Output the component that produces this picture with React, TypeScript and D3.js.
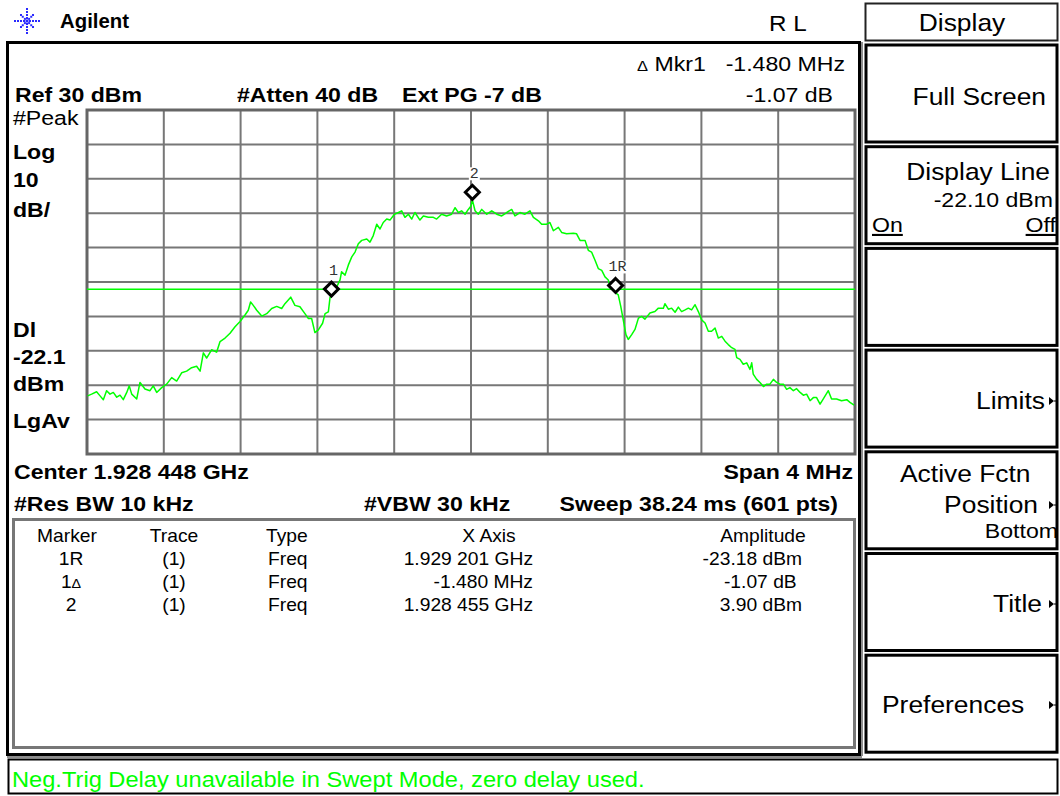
import React from 'react';
import * as d3 from 'd3';

// ---- Data ----
const refLevelDbm = 30;
const dbPerDiv = 10;
const spanMHz = 4;
const divisions = 10;
const displayLineDbm = -22.1;

const traceOffsetMHz = [
  -1.997, -1.976, -1.95, -1.932, -1.915, -1.898, -1.88, -1.863, -1.845, -1.828, -1.811, -1.793, -1.78, -1.767,
  -1.741, -1.724, -1.698, -1.672, -1.655, -1.637, -1.611, -1.585, -1.559, -1.533, -1.507, -1.481, -1.455, -1.429,
  -1.411, -1.394, -1.377, -1.351, -1.325, -1.307, -1.281, -1.255, -1.229, -1.203, -1.177, -1.16, -1.148, -1.134,
  -1.116, -1.09, -1.064, -1.038, -1.012, -0.986, -0.969, -0.939, -0.917, -0.891, -0.865, -0.847, -0.83, -0.813,
  -0.795, -0.773, -0.76, -0.743, -0.734, -0.727, -0.7, -0.682, -0.674, -0.656, -0.639, -0.621, -0.604, -0.587,
  -0.569, -0.543, -0.526, -0.509, -0.491, -0.474, -0.457, -0.439, -0.422, -0.399, -0.378, -0.361, -0.344, -0.326,
  -0.309, -0.292, -0.266, -0.248, -0.222, -0.196, -0.179, -0.153, -0.127, -0.101, -0.083, -0.066, -0.049, -0.031,
  -0.014, 0.0, 0.007, 0.021, 0.038, 0.056, 0.082, 0.108, 0.134, 0.16, 0.186, 0.212, 0.229, 0.255, 0.281, 0.307,
  0.325, 0.351, 0.368, 0.394, 0.411, 0.429, 0.455, 0.472, 0.498, 0.533, 0.55, 0.568, 0.594, 0.611, 0.628, 0.646,
  0.663, 0.681, 0.698, 0.715, 0.724, 0.741, 0.753, 0.767, 0.78, 0.793, 0.807, 0.819, 0.837, 0.854, 0.872, 0.889,
  0.906, 0.932, 0.958, 0.976, 1.002, 1.01, 1.028, 1.045, 1.063, 1.08, 1.097, 1.115, 1.132, 1.149, 1.167, 1.184,
  1.201, 1.219, 1.236, 1.253, 1.271, 1.288, 1.306, 1.323, 1.34, 1.358, 1.375, 1.384, 1.401, 1.418, 1.436, 1.453,
  1.462, 1.47, 1.488, 1.505, 1.523, 1.54, 1.557, 1.575, 1.592, 1.609, 1.627, 1.644, 1.661, 1.679, 1.696, 1.714,
  1.731, 1.748, 1.766, 1.783, 1.8, 1.818, 1.835, 1.861, 1.878, 1.904, 1.93, 1.957, 1.974, 1.995,
];
const traceLevelDbm = [
  -53.1, -52.6, -51.9, -53.1, -54.2, -51.6, -52.6, -52.1, -53.5, -52.9, -54.2, -52.1, -50.2, -52.6,
  -54.0, -49.2, -51.1, -51.6, -50.2, -52.1, -50.7, -49.7, -47.8, -48.8, -46.4, -45.9, -44.9, -44.5,
  -45.9, -40.6, -42.1, -39.7, -40.4, -37.3, -36.3, -34.9, -33.0, -31.5, -29.6, -28.2, -25.8, -26.8,
  -28.2, -29.9, -29.2, -27.7, -27.1, -27.7, -26.3, -24.4, -26.8, -27.2, -29.2, -30.6, -30.6, -34.7,
  -33.9, -32.0, -29.2, -28.7, -24.4, -24.25, -21.5, -19.4, -17.0, -18.0, -15.1, -12.7, -11.3, -8.9,
  -7.9, -7.5, -8.4, -6.5, -3.2, -4.6, -2.7, -1.7, -2.0, -0.3, 0.2, 0.7, -1.2, -0.3,
  -1.7, 0.2, -2.0, -0.8, -1.2, -1.2, -1.7, -0.3, -0.8, -0.3, 1.6, 0.2, 0.7, -0.3,
  1.1, 2.1, 3.9, 0.7, -0.3, 1.1, -0.3, 0.7, -0.3, -0.8, 0.2, 1.1, -0.8, 0.2, -0.3, 0.7,
  -1.2, -2.2, -3.2, -3.2, -2.7, -5.1, -4.1, -5.6, -6.0, -5.8, -6.0, -7.9, -7.9, -10.8, -11.3, -13.7,
  -16.1, -16.6, -18.5, -19.4, -21.3, -20.4, -23.18, -23.75, -27.1, -31.0, -35.3, -36.7, -35.3, -33.8, -30.5, -30.0,
  -30.8, -29.0, -28.6, -27.6, -27.6, -26.3, -27.9, -27.6, -28.8, -27.3, -28.6, -28.1, -27.6, -28.1, -26.6, -28.6,
  -31.0, -31.9, -34.3, -34.3, -33.4, -36.3, -35.8, -37.2, -38.2, -39.1, -39.6, -42.0, -42.5, -43.9, -43.5, -45.4,
  -43.5, -46.8, -48.3, -49.2, -50.4, -49.7, -49.7, -48.3, -49.2, -49.7, -49.7, -51.2, -50.7, -51.6, -51.0, -52.1,
  -52.9, -52.6, -54.5, -53.6, -53.6, -55.5, -54.0, -51.6, -54.0, -54.0, -54.5, -54.2, -55.0, -55.8,
];

const markerLabels = ['1', '1R', '2'];
const markerOffsetMHz = [-0.727, 0.753, 0.007];
const markerLevelDbm = [-24.25, -23.18, 3.9];

const leftLabels = ['#Peak', 'Log', '10', 'dB/', 'Dl', '-22.1', 'dBm', 'LgAv'];

const tableHeaders = ['Marker', 'Trace', 'Type', 'X Axis', 'Amplitude'];
const tableMarker = ['1R', '1\u0394', '2'];
const tableTrace = ['(1)', '(1)', '(1)'];
const tableType = ['Freq', 'Freq', 'Freq'];
const tableXAxis = ['1.929 201 GHz', '-1.480 MHz', '1.928 455 GHz'];
const tableAmplitude = ['-23.18 dBm', '-1.07 dB\u00A0', '3.90 dBm'];

const statusMessage = 'Neg.Trig Delay unavailable in Swept Mode, zero delay used.';

// ---- Layout ----
const W = 1060;
const H = 796;
const FONT = "'Liberation Sans', Arial, Helvetica, sans-serif";
const SX = 1.1;
const GREEN = '#00ff00';

const G = { left: 87, right: 855, top: 110, bottom: 454 };

type TP = {
  x: number; y: number; s: number; w?: string | number; a?: 'start' | 'middle' | 'end';
  sx?: number; fill?: string; u?: boolean; children: React.ReactNode; family?: string;
};
function T({ x, y, s, w = 'normal', a = 'start', sx = SX, fill = '#000', u = false, children, family = FONT }: TP) {
  return (
    <text
      transform={`translate(${x},${y}) scale(${sx},1)`}
      fontSize={s}
      fontWeight={w}
      textAnchor={a}
      fontFamily={family}
      fill={fill}
      textDecoration={u ? 'underline' : undefined}
    >
      {children}
    </text>
  );
}

function Arrow({ x, y }: { x: number; y: number }) {
  return (
    <g>
      <path d={`M${x},${y - 4} L${x + 5},${y} L${x},${y + 4} Z`} fill="#000" />
      <line x1={x + 5} y1={y} x2={x + 9} y2={y} stroke="#000" strokeWidth={1} />
    </g>
  );
}

function Logo({ cx, cy }: { cx: number; cy: number }) {
  const dots: JSX.Element[] = [];
  const angles = d3.range(0, 360, 45);
  angles.forEach((a, i) => {
    const rad = (a * Math.PI) / 180;
    const radii = a % 90 === 0 ? [3, 6, 9, 12] : [3, 6, 8.5];
    radii.forEach((r, j) => {
      dots.push(
        <rect key={`${i}-${j}`} x={cx + r * Math.cos(rad) - 1} y={cy + r * Math.sin(rad) - 1} width={2} height={2} fill="#2a2aff" />
      );
    });
  });
  return (
    <g>
      <rect x={cx - 1.5} y={cy - 1.5} width={3} height={3} fill="#2a2aff" />
      {dots}
    </g>
  );
}

export default function App() {
  const x = d3.scaleLinear().domain([-spanMHz / 2, spanMHz / 2]).range([G.left, G.right]);
  const y = d3.scaleLinear().domain([refLevelDbm - dbPerDiv * divisions, refLevelDbm]).range([G.bottom, G.top]);

  const pts: [number, number][] = traceOffsetMHz.map((f, i) => [f, traceLevelDbm[i]]);
  const line = d3.line<[number, number]>().x((d) => x(d[0])).y((d) => y(d[1]));

  const vTicks = d3.range(0, divisions + 1).map((i) => -spanMHz / 2 + (i * spanMHz) / divisions);
  const hTicks = d3.range(0, divisions + 1).map((i) => refLevelDbm - i * dbPerDiv);

  const leftLabelY = [125, 159, 187, 217, 337, 364, 391, 428];

  const rowY = [565, 588, 611];

  const skTop = 45;
  const skStep = 101.7;
  const skH = 97;

  return (
    <svg width={W} height={H} style={{ position: 'absolute', left: 0, top: 0, background: '#fff' }}>
      <rect x={0} y={0} width={W} height={H} fill="#fff" />

      {/* Header */}
      <Logo cx={27} cy={21} />
      <T x={60} y={28} s={21} w="bold" sx={0.97}>Agilent</T>
      <T x={769} y={31} s={22}>R L</T>

      {/* Main frame */}
      <rect x={7.5} y={42.5} width={852} height={712} fill="none" stroke="#000" strokeWidth={3} />
      <line x1={862} y1={42} x2={862} y2={756} stroke="#666" strokeWidth={1.5} />
      <line x1={7} y1={757} x2={862} y2={757} stroke="#666" strokeWidth={1.5} />

      <T x={637} y={71} s={21}><tspan fontSize={15}>{'\u0394'}</tspan> Mkr1</T>
      <T x={845} y={71} s={21} a="end">-1.480 MHz</T>
      <T x={15} y={102} s={21} w="bold">Ref 30 dBm</T>
      <T x={237} y={102} s={21} w="bold">#Atten 40 dB</T>
      <T x={402} y={102} s={21} w="bold">Ext PG -7 dB</T>
      <T x={833} y={102} s={21} a="end">-1.07 dB</T>

      {leftLabels.map((l, i) => (
        <T key={l} x={13} y={leftLabelY[i]} s={21} w={i === 0 ? 'normal' : 'bold'}>{l}</T>
      ))}

      {/* Grid */}
      <g>
        {vTicks.map((f) => (
          <line key={`v${f}`} x1={x(f)} x2={x(f)} y1={G.top} y2={G.bottom} stroke="#777" strokeWidth={2} />
        ))}
        {hTicks.map((d) => (
          <line key={`h${d}`} x1={G.left} x2={G.right} y1={y(d)} y2={y(d)} stroke="#777" strokeWidth={2} />
        ))}
        <rect x={G.left} y={G.top} width={G.right - G.left} height={G.bottom - G.top} fill="none" stroke="#666" strokeWidth={3} />
      </g>

      {/* Display line */}
      <line x1={G.left} x2={G.right} y1={y(displayLineDbm)} y2={y(displayLineDbm)} stroke={GREEN} strokeWidth={1.6} />

      {/* Trace */}
      <path d={line(pts) || ''} fill="none" stroke={GREEN} strokeWidth={1.5} strokeLinejoin="round" />

      {/* Markers */}
      {markerLabels.map((m, i) => {
        const mx = x(markerOffsetMHz[i]);
        const my = y(markerLevelDbm[i]);
        const cy = my - 7.5;
        const hw = 7;
        const hh = 7;
        const labelW = m.length * 9 + 2;
        return (
          <g key={m}>
            <path
              d={`M${mx},${cy - hh} L${mx + hw},${cy} L${mx},${cy + hh} L${mx - hw},${cy} Z`}
              fill="#fff"
              stroke="#000"
              strokeWidth={3}
            />
            <rect x={mx + 2 - labelW / 2} y={cy - hh - 18} width={labelW} height={13} fill="#fff" />
            <T x={mx + 2} y={cy - hh - 7} s={15} a="middle" sx={1} fill="#333" family="'Liberation Mono', 'DejaVu Sans Mono', monospace">{m}</T>
          </g>
        );
      })}

      {/* Bottom annotations */}
      <T x={14} y={479} s={21} w="bold">Center 1.928 448 GHz</T>
      <T x={853} y={479} s={21} w="bold" a="end">Span 4 MHz</T>
      <T x={14} y={511} s={21} w="bold">#Res BW 10 kHz</T>
      <T x={364} y={511} s={21} w="bold">#VBW 30 kHz</T>
      <T x={838} y={511} s={21} w="bold" a="end">Sweep 38.24 ms (601 pts)</T>

      {/* Marker table */}
      <rect x={13.5} y={519.5} width={841} height={228} fill="none" stroke="#777" strokeWidth={3} />
      <T x={67} y={542} s={17.5} a="middle">{tableHeaders[0]}</T>
      <T x={174} y={542} s={17.5} a="middle">{tableHeaders[1]}</T>
      <T x={266} y={542} s={17.5}>{tableHeaders[2]}</T>
      <T x={489} y={542} s={17.5} a="middle">{tableHeaders[3]}</T>
      <T x={763} y={542} s={17.5} a="middle">{tableHeaders[4]}</T>
      {tableMarker.map((m, i) => (
        <g key={`row${i}`}>
          <T x={71} y={rowY[i]} s={17.5} a="middle">
            {m.includes('\u0394') ? <>{m.replace('\u0394', '')}<tspan fontSize={13}>{'\u0394'}</tspan></> : m}
          </T>
          <T x={174} y={rowY[i]} s={17.5} a="middle">{tableTrace[i]}</T>
          <T x={268} y={rowY[i]} s={17.5}>{tableType[i]}</T>
          <T x={533} y={rowY[i]} s={17.5} a="end">{tableXAxis[i]}</T>
          <T x={802} y={rowY[i]} s={17.5} a="end">{tableAmplitude[i]}</T>
        </g>
      ))}

      {/* Softkeys */}
      <rect x={865.5} y={3.5} width={192} height={37} fill="none" stroke="#222" strokeWidth={2} />
      <T x={962} y={31} s={24} a="middle">Display</T>
      {d3.range(0, 7).map((i) => (
        <rect key={`sk${i}`} x={866} y={skTop + i * skStep} width={191} height={skH} fill="none" stroke="#000" strokeWidth={3} />
      ))}
      <T x={1046} y={105} s={24} a="end">Full Screen</T>
      <T x={1050} y={180} s={24} a="end">Display Line</T>
      <T x={1053} y={207} s={21} a="end">-22.10 dBm</T>
      <T x={872} y={232} s={21} u>On</T>
      <T x={1056} y={232} s={21} a="end" u>Off</T>
      <T x={1045} y={409} s={24} a="end">Limits</T>
      <Arrow x={1049} y={401} />
      <T x={900} y={482} s={24}>Active Fctn</T>
      <T x={1038} y={513} s={24} a="end">Position</T>
      <Arrow x={1049} y={505} />
      <T x={1058} y={538} s={21} a="end">Bottom</T>
      <T x={1042} y={612} s={24} a="end">Title</T>
      <Arrow x={1049} y={604} />
      <T x={882} y={713} s={24}>Preferences</T>
      <Arrow x={1049} y={705} />

      {/* Status bar */}
      <rect x={8.5} y={759.5} width={1049} height={34} fill="none" stroke="#000" strokeWidth={2} />
      <T x={12} y={787} s={21.5} fill={GREEN}>{statusMessage}</T>
    </svg>
  );
}
